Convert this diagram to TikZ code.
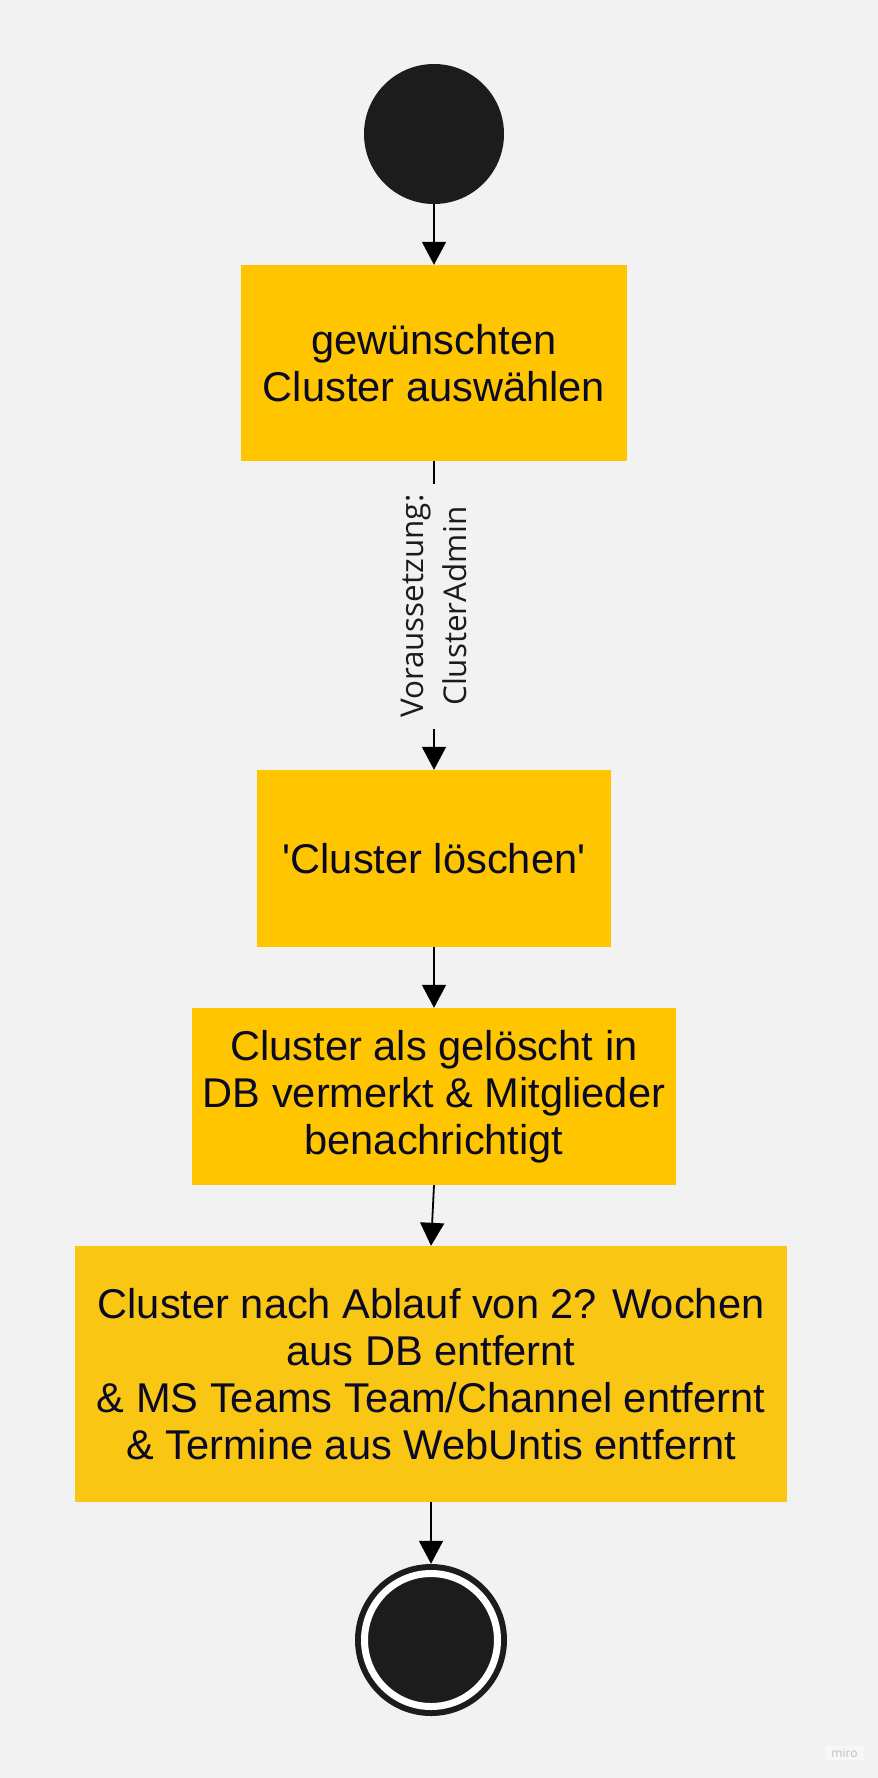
\documentclass[tikz,border=0pt]{standalone}
\usepackage{fontspec}
\setmainfont{Liberation Sans}
\newfontfamily\boxfont{Liberation Sans}[Ligatures=ResetAll]
\newfontfamily\labelfont{Open Sans}
\usetikzlibrary{arrows.meta}

\definecolor{bg}{HTML}{F2F2F2}
\definecolor{boxyellow}{HTML}{FFC600}
\definecolor{boxgold}{HTML}{F9C613}
\definecolor{dot}{HTML}{1C1C1C}
\definecolor{ink}{HTML}{0A0A26}

\tikzset{
  stepbox/.style={rectangle, fill=boxyellow, text=ink, align=center, inner sep=0pt,
    font=\boxfont\fontsize{41.6}{47}\selectfont},
  flow/.style={draw=black, line width=1.8pt, -{Triangle[width=24pt,length=23pt]}},
  guard/.style={fill=bg, rotate=90, align=center, inner xsep=11pt, inner ysep=1pt,
    text=dot, font=\labelfont\fontsize{31.4}{43}\selectfont},
}

\begin{document}
\begin{tikzpicture}[x=1pt,y=-1pt]
\fill[bg] (0,0) rectangle (878,1778);
\useasboundingbox (0,0) rectangle (878,1778);

\node[circle, fill=dot, minimum size=140pt, inner sep=0pt] (start) at (434,134) {};
\node[stepbox, minimum width=386pt, minimum height=196pt] (pick) at (434,363)
  {gewünschten\\Cluster auswählen};
\node[stepbox, minimum width=354pt, minimum height=177pt] (del) at (434,858.5)
  {'Cluster löschen'};
\node[stepbox, minimum width=484pt, minimum height=177pt] (mark) at (434,1096.5)
  {Cluster als gelöscht in\\DB vermerkt \& Mitglieder\\benachrichtigt};
\node[stepbox, fill=boxgold, minimum width=712pt, minimum height=256pt] (purge) at (431,1374)
  {Cluster nach Ablauf von 2? Wochen\\aus DB entfernt\\\& MS Teams Team/Channel entfernt\\\& Termine aus WebUntis entfernt};
\node[circle, fill=dot, minimum size=152pt, inner sep=0pt] (end) at (431,1640) {};
\node[circle, fill=dot, draw=white, line width=7pt, minimum size=133pt, inner sep=0pt] (endcore) at (end) {};

\draw[flow] (start) -- (pick);
\draw[flow] (pick) -- node[guard, pos=0.47] {Voraussetzung:\\ClusterAdmin} (del);
\draw[flow] (del) -- (mark);
\draw[flow] (mark.south) -- (purge.north);
\draw[flow] (purge.south) -- (end);

\node[fill=white, fill opacity=0.4, text opacity=1, text=black!25, inner xsep=6pt, inner ysep=3pt,
  font=\labelfont\fontsize{12}{12}\selectfont] (miro) at (844.5,1753) {miro};
\end{tikzpicture}
\end{document}
